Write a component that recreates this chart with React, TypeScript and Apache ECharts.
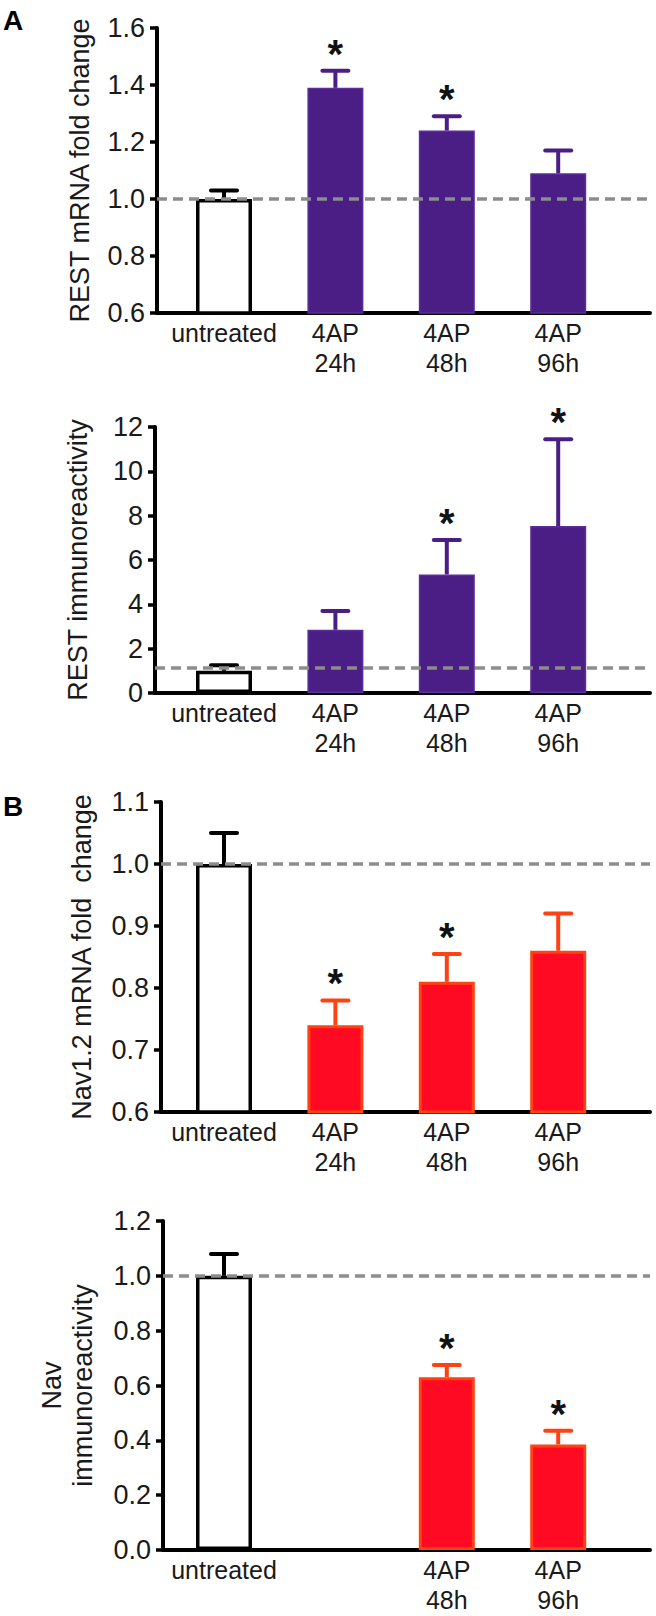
import React, { useEffect, useRef } from "react";
import * as echarts from "echarts";

// ---------- data ----------
const categories = ["untreated", "4AP\n24h", "4AP\n48h", "4AP\n96h"];
const categoriesNavProt = ["untreated", "", "4AP\n48h", "4AP\n96h"];

const restMrnaMean = [1.0, 1.39, 1.24, 1.09];
const restMrnaSem = [0.03, 0.06, 0.05, 0.08];
const restMrnaSig = [false, true, true, false];
const restMrnaTicks = [0.6, 0.8, 1.0, 1.2, 1.4, 1.6];

const restProtMean = [1.0, 2.85, 5.35, 7.53];
const restProtSem = [0.25, 0.85, 1.55, 3.92];
const restProtSig = [false, false, true, true];
const restProtTicks = [0, 2, 4, 6, 8, 10, 12];

const navMrnaMean = [1.0, 0.74, 0.81, 0.86];
const navMrnaSem = [0.05, 0.04, 0.045, 0.06];
const navMrnaSig = [false, true, true, false];
const navMrnaTicks = [0.6, 0.7, 0.8, 0.9, 1.0, 1.1];

const navProtMean = [1.0, null, 0.63, 0.385];
const navProtSem = [0.08, null, 0.045, 0.05];
const navProtSig = [false, false, true, true];
const navProtTicks = [0.0, 0.2, 0.4, 0.6, 0.8, 1.0, 1.2];

const referenceLevels = [1.0, 1.12, 1.0, 1.0];

// ---------- styles ----------
const FONT = "'Liberation Sans', Arial, Helvetica, sans-serif";
const TEXT = "#1a1a1a";
const PURPLE = "#4b1e85";
const PURPLE_EDGE = "#5a2c9c";
const RED = "#ff0a22";
const RED_EDGE = "#ff4212";

type PanelCfg = {
  left: number;
  top: number;
  height: number;
  right: number;
  name: string;
  nameGap: number;
  cats: string[];
  mean: (number | null)[];
  sem: (number | null)[];
  sig: boolean[];
  ticks: number[];
  decimals: number;
  refLevel: number;
  fill: string;
  edge: string;
  edgeWidth: number;
};

const CENTER0 = 224;
const STEP = 111.4;

function buildPanel(idx: number, c: PanelCfg) {
  const width = c.right - c.left;
  const xMin = -(CENTER0 - c.left) / STEP;
  const xMax = xMin + width / STEP;
  const interval = c.ticks[1] - c.ticks[0];
  const grid = { left: c.left, top: c.top, height: c.height, width };
  const xAxis = {
    type: "value",
    gridIndex: idx,
    min: xMin,
    max: xMax,
    axisLine: { show: true, onZero: false, lineStyle: { color: "#000", width: 4 } },
    axisTick: { show: false },
    splitLine: { show: false },
    axisLabel: {
      customValues: [0, 1, 2, 3],
      formatter: (v: number) => c.cats[Math.round(v)] ?? "",
      fontSize: 25,
      lineHeight: 30,
      margin: 5,
      color: TEXT,
      fontFamily: FONT,
    },
  };
  const yAxis = {
    type: "value",
    gridIndex: idx,
    min: c.ticks[0],
    max: c.ticks[c.ticks.length - 1],
    interval,
    name: c.name,
    nameLocation: "middle",
    nameGap: c.nameGap,
    nameTextStyle: { fontSize: 27, color: TEXT, fontFamily: FONT, lineHeight: 31 },
    axisLine: { show: true, onZero: false, lineStyle: { color: "#000", width: 4 } },
    axisTick: { show: true, length: 7, lineStyle: { color: "#000", width: 3.5 } },
    splitLine: { show: false },
    axisLabel: {
      fontSize: 27,
      margin: 12,
      color: TEXT,
      fontFamily: FONT,
      formatter: (v: number) => v.toFixed(c.decimals),
    },
  };

  const barData: any[] = [];
  const errData: any[] = [];
  c.mean.forEach((m, i) => {
    if (m === null) return;
    const isCtrl = i === 0;
    barData.push({
      value: [i, m],
      itemStyle: isCtrl
        ? { color: "#fff", borderColor: "#000", borderWidth: 3.5 }
        : { color: c.fill, borderColor: c.edge, borderWidth: c.edgeWidth },
    });
    errData.push([i, m, m + (c.sem[i] as number), c.sig[i] ? 1 : 0, isCtrl ? 0 : 1]);
  });

  const series = [
    {
      type: "bar",
      xAxisIndex: idx,
      yAxisIndex: idx,
      barWidth: 56,
      data: barData,
      z: 2,
    },
    {
      type: "custom",
      xAxisIndex: idx,
      yAxisIndex: idx,
      z: 3,
      data: errData,
      encode: { x: 0, y: [1, 2] },
      renderItem: (params: any, api: any) => {
        const i = api.value(0);
        const m = api.value(1);
        const u = api.value(2);
        const sig = api.value(3);
        const colorIdx = api.value(4);
        const col = colorIdx === 0 ? "#000" : c.edge === RED_EDGE ? RED_EDGE : PURPLE;
        const p0 = api.coord([i, m]);
        const p1 = api.coord([i, u]);
        const children: any[] = [
          {
            type: "line",
            shape: { x1: p0[0], y1: p0[1], x2: p1[0], y2: p1[1] },
            style: { stroke: col, lineWidth: 4 },
          },
          {
            type: "line",
            shape: { x1: p1[0] - 13, y1: p1[1], x2: p1[0] + 13, y2: p1[1] },
            style: { stroke: col, lineWidth: 4, lineCap: "round" },
          },
        ];
        if (sig) {
          children.push({
            type: "text",
            style: {
              text: "*",
              x: p1[0],
              y: p1[1] + 3,
              align: "center",
              verticalAlign: "bottom",
              fontSize: 40,
              fontWeight: "bold",
              fontFamily: FONT,
              fill: "#111",
            },
          });
        }
        return { type: "group", children };
      },
      markLine: {
        silent: true,
        symbol: "none",
        label: { show: false },
        lineStyle: { color: "#8c8c8c", width: 3.5, type: [10, 6] },
        data: [{ yAxis: c.refLevel }],
        z: 5,
      },
    },
  ];
  return { grid, xAxis, yAxis, series };
}

const panels: PanelCfg[] = [
  {
    left: 157, top: 28, height: 285, right: 650,
    name: "REST mRNA fold change", nameGap: 62,
    cats: categories, mean: restMrnaMean, sem: restMrnaSem, sig: restMrnaSig,
    ticks: restMrnaTicks, decimals: 1, refLevel: referenceLevels[0],
    fill: PURPLE, edge: PURPLE_EDGE, edgeWidth: 1.5,
  },
  {
    left: 155, top: 427, height: 266, right: 650,
    name: "REST immunoreactivity", nameGap: 62,
    cats: categories, mean: restProtMean, sem: restProtSem, sig: restProtSig,
    ticks: restProtTicks, decimals: 0, refLevel: referenceLevels[1],
    fill: PURPLE, edge: PURPLE_EDGE, edgeWidth: 1.5,
  },
  {
    left: 161, top: 802, height: 310, right: 650,
    name: "Nav1.2 mRNA fold  change", nameGap: 64,
    cats: categories, mean: navMrnaMean, sem: navMrnaSem, sig: navMrnaSig,
    ticks: navMrnaTicks, decimals: 1, refLevel: referenceLevels[2],
    fill: RED, edge: RED_EDGE, edgeWidth: 3,
  },
  {
    left: 163, top: 1221, height: 329, right: 650,
    name: "Nav\nimmunoreactivity", nameGap: 65,
    cats: categoriesNavProt, mean: navProtMean, sem: navProtSem, sig: navProtSig,
    ticks: navProtTicks, decimals: 1, refLevel: referenceLevels[3],
    fill: RED, edge: RED_EDGE, edgeWidth: 3,
  },
];

export default function App() {
  const ref = useRef<HTMLDivElement>(null);
  useEffect(() => {
    if (!ref.current) return;
    const chart = echarts.init(ref.current, undefined, { renderer: "svg" });
    const built = panels.map((p, i) => buildPanel(i, p));
    const option: any = {
      animation: false,
      backgroundColor: "#fff",
      grid: built.map((b) => b.grid),
      xAxis: built.map((b) => b.xAxis),
      yAxis: built.map((b) => b.yAxis),
      series: built.flatMap((b) => b.series),
      graphic: [
        {
          type: "text",
          left: 3,
          top: 6,
          style: { text: "A", fontSize: 28, fontWeight: "bold", fontFamily: FONT, fill: "#000" },
        },
        {
          type: "text",
          left: 3,
          top: 792,
          style: { text: "B", fontSize: 28, fontWeight: "bold", fontFamily: FONT, fill: "#000" },
        },
      ],
    };
    chart.setOption(option);
    return () => chart.dispose();
  }, []);
  return (
    <div
      ref={ref}
      style={{ position: "absolute", left: 0, top: 0, width: 656, height: 1616, background: "#fff" }}
    />
  );
}
